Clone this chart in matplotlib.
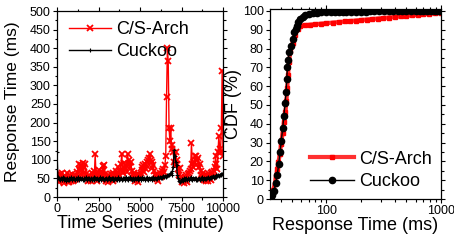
import numpy as np
import matplotlib
matplotlib.use("Agg")
import matplotlib.pyplot as plt
from matplotlib.ticker import MultipleLocator, FixedLocator, NullFormatter, FixedFormatter

plt.rcParams['font.family'] = ['Liberation Sans', 'DejaVu Sans']

# ---- time series (one value every 50 minutes) ----
t_step = 50
cs_resp = [60, 45, 55, 40, 62, 48, 64, 42, 52, 38, 57, 46, 65, 41, 50, 39, 58, 44, 63, 42,
           52, 45, 58, 48, 66, 55, 75, 90, 70, 85, 60, 92, 65, 80, 88, 62, 50, 42, 60, 45,
           55, 42, 64, 50, 70, 58, 115, 60, 44, 55, 65, 72, 60, 48, 68, 82, 60, 85, 62, 44,
           47, 60, 40, 57, 45, 62, 50, 42, 64, 48, 58, 70, 64, 55, 80, 60, 72, 88, 115, 65,
           70, 92, 75, 85, 68, 115, 90, 100, 80, 95, 70, 60, 52, 64, 44, 58, 46, 62, 40, 55,
           58, 65, 80, 72, 85, 68, 90, 75, 82, 95, 100, 105, 115, 100, 95, 78, 85, 70, 60, 52,
           48, 62, 44, 58, 65, 55, 70, 62, 75, 68, 85, 110, 270, 400, 365, 185, 150, 185, 130, 140,
           120, 95, 85, 120, 100, 90, 75, 60, 78, 55, 45, 40, 52, 38, 55, 42, 60, 40, 62, 65,
           70, 75, 145, 90, 80, 95, 110, 85, 110, 100, 105, 80, 90, 70, 60, 50, 64, 45, 60, 42,
           46, 58, 42, 62, 48, 64, 45, 66, 55, 70, 80, 110, 90, 75, 120, 165, 130, 120, 185, 340,
           110]
ck_resp = [120, 55, 48, 52, 45, 50, 47, 53, 46, 51, 48, 44, 52, 47, 50, 45, 49, 53, 46, 50,
           48, 52, 45, 50, 47, 53, 49, 46, 51, 48, 52, 45, 50, 47, 49, 53, 46, 50, 48, 52,
           47, 51, 45, 49, 53, 46, 50, 48, 52, 45, 49, 47, 53, 46, 50, 48, 51, 45, 49, 52,
           46, 50, 48, 53, 45, 49, 51, 47, 50, 46, 52, 48, 45, 50, 53, 47, 49, 51, 46, 50,
           48, 52, 47, 54, 49, 51, 46, 50, 53, 48, 47, 51, 49, 45, 52, 48, 50, 46, 53, 49,
           51, 47, 50, 54, 48, 52, 46, 50, 49, 53, 47, 51, 48, 52, 50, 46, 53, 49, 51, 48,
           52, 49, 54, 50, 53, 51, 55, 52, 56, 53, 57, 55, 58, 56, 60, 58, 62, 65, 60, 70,
           80, 126, 110, 95, 85, 60, 50, 44, 40, 42, 45, 48, 44, 50, 46, 52, 48, 45, 50, 47,
           51, 48, 53, 46, 50, 48, 52, 47, 50, 45, 49, 52, 47, 50, 48, 53, 46, 50, 49, 52,
           48, 51, 53, 49, 52, 55, 51, 54, 56, 52, 55, 58, 54, 57, 60, 56, 59, 62, 58, 61,
           63]
t_cs = np.arange(len(cs_resp)) * t_step
t_ck = np.arange(len(ck_resp)) * t_step

# ---- CDF of response time ----
ck_cdf_x = [32.9, 33.9, 35.0, 36.2, 37.4, 38.5, 39.5, 40.5, 41.7, 42.6,
            43.7, 44.6, 45.2, 45.8, 46.4, 47.4, 49.3, 51.0, 52.7, 54.0,
            55.3, 57.1, 59.2, 62.2, 65.4, 70.9, 76, 82.9, 90, 100,
            110, 120, 130, 140, 150, 165, 180, 200, 220, 240,
            260, 290, 320, 350, 380, 420, 460, 500, 550, 600,
            650, 700, 760, 820, 880, 940, 1000]
ck_cdf_y = [0, 2, 4, 8.5, 13, 18.7, 24.8, 31, 37.6, 44,
            50.8, 57, 63.6, 70, 74, 78, 81.5, 85, 88.6, 90.5,
            92, 94.2, 95.7, 97.0, 97.8, 98.4, 98.8, 99.1, 99.2, 99.3,
            99.35, 99.4, 99.45, 99.5, 99.5, 99.55, 99.6, 99.6, 99.65, 99.7,
            99.72, 99.75, 99.78, 99.8, 99.82, 99.85, 99.87, 99.88, 99.9, 99.91,
            99.92, 99.93, 99.95, 99.96, 99.97, 99.98, 100]
cs_cdf_x = [32.9, 33.9, 34.6, 35.5, 36.4, 37.4, 38.3, 39.3, 40.3, 41.6,
            42.8, 44.0, 44.9, 45.7, 46.4, 47.4, 48.6, 50.8, 53.2, 56.2,
            59.1, 65, 72, 80, 90, 100, 115, 130, 145, 160,
            180, 200, 225, 250, 280, 315, 350, 400, 450, 500,
            560, 630, 700, 790, 880, 1000]
cs_cdf_y = [0, 3, 5, 8, 12, 16, 19.5, 24, 29, 35,
            41, 46, 52, 59, 66, 73, 78.5, 83, 87, 90.5,
            92.2, 92.43, 92.67, 92.93, 93.21, 93.46, 93.80, 94.09, 94.36, 94.59,
            94.88, 95.13, 95.41, 95.67, 95.94, 96.22, 96.48, 96.80, 97.08, 97.34,
            97.61, 97.89, 98.15, 98.44, 98.70, 99.0]

fig = plt.figure(figsize=(4.54, 2.41), dpi=100)
ax1 = fig.add_axes([57/454, 1-197/241, 166/454, 186/241])
ax2 = fig.add_axes([270/454, 1-199/241, 171/454, 190/241])

tick_fs = 9
lab_fs = 13

# left panel
ax1.plot(t_cs, cs_resp, color='red', lw=1, marker='x', ms=4, mew=1.3, label='C/S-Arch')
ax1.plot(t_ck, ck_resp, color='black', lw=1, marker='+', ms=3, mew=0.8, label='Cuckoo')
ax1.set_xlim(0, 10000)
ax1.set_ylim(0, 500)
ax1.xaxis.set_major_locator(MultipleLocator(2500))
ax1.xaxis.set_minor_locator(MultipleLocator(1250))
ax1.yaxis.set_major_locator(MultipleLocator(50))
ax1.yaxis.set_minor_locator(MultipleLocator(25))
ax1.set_xlabel('Time Series (minute)', fontsize=lab_fs, labelpad=0)
ax1.set_ylabel('Response Time (ms)', fontsize=12.5)
ax1.yaxis.set_label_coords(-0.225, 0.51)
ax1.legend(loc='upper left', frameon=False, fontsize=lab_fs, handlelength=2.3,
           handletextpad=0.3, borderaxespad=0.1, labelspacing=0.28,
           bbox_to_anchor=(0.02, 0.995))

# right panel
ax2.plot(cs_cdf_x, cs_cdf_y, color='#ff3030', lw=3, marker='s', ms=3.5,
         mfc='red', mec='red', label='C/S-Arch')
ax2.plot(ck_cdf_x, ck_cdf_y, color='black', lw=1, marker='o', ms=4.5, label='Cuckoo')
ax2.set_xscale('log')
ax2.set_xlim(32.3, 1000)
ax2.set_ylim(0, 101)
ax2.xaxis.set_major_locator(FixedLocator([100, 1000]))
ax2.xaxis.set_major_formatter(FixedFormatter(['100', '1000']))
ax2.xaxis.set_minor_locator(FixedLocator([40, 50, 60, 70, 80, 90,
                                          200, 300, 400, 500, 600, 700, 800, 900]))
ax2.xaxis.set_minor_formatter(NullFormatter())
ax2.yaxis.set_major_locator(MultipleLocator(10))
ax2.yaxis.set_minor_locator(MultipleLocator(5))
ax2.set_xlabel('Response Time (ms)', fontsize=lab_fs, labelpad=0)
ax2.set_ylabel('CDF (%)', fontsize=lab_fs)
ax2.yaxis.set_label_coords(-0.165, 0.5)
ax2.legend(loc='lower right', frameon=False, fontsize=lab_fs, handlelength=2.4,
           handletextpad=0.3, borderaxespad=0.1, labelspacing=0.3,
           bbox_to_anchor=(1.0, 0.0))

for ax in (ax1, ax2):
    ax.tick_params(which='both', labelsize=tick_fs, width=0.8, pad=1.5,
                   direction='out', top=True, right=True)
    ax.tick_params(which='major', length=3)
    ax.tick_params(which='minor', length=1.8)
    for s in ax.spines.values():
        s.set_linewidth(0.9)

fig.savefig('out.png', dpi=100)
